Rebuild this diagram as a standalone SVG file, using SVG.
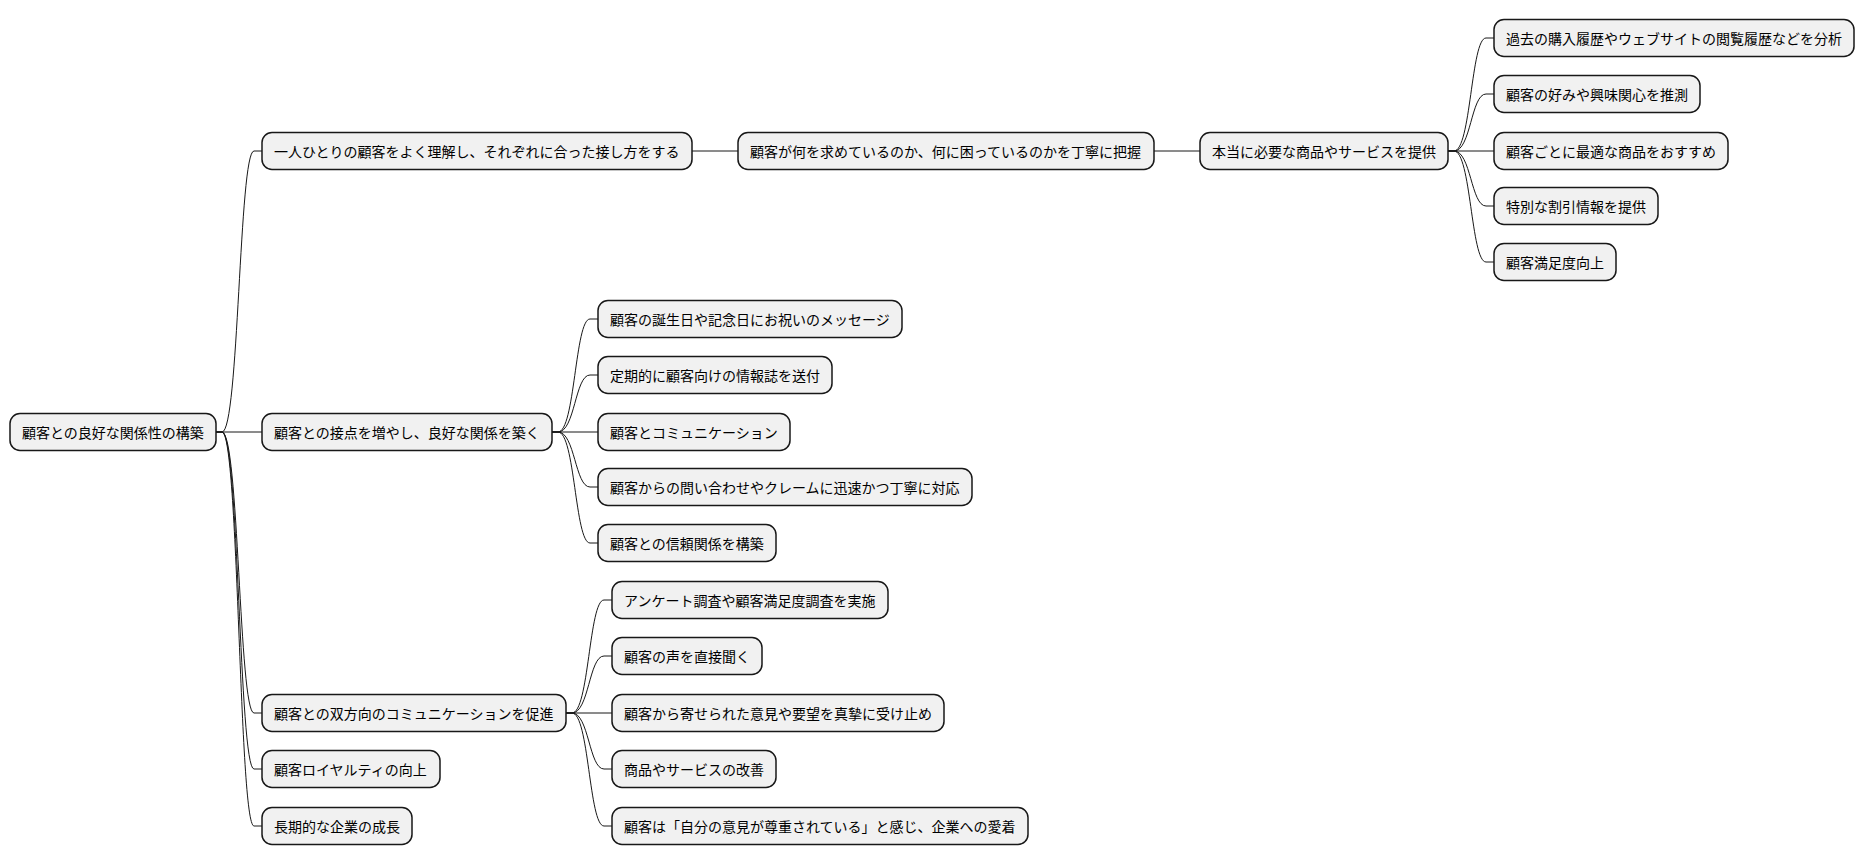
<svg xmlns="http://www.w3.org/2000/svg" width="1860" height="865" viewBox="0 0 1860 865">
<style>
.n rect{fill:#f1f1f1;stroke:#181818;stroke-width:1.5}
.n text{font-family:"Noto Sans CJK JP","Noto Sans",sans-serif;font-size:14px;fill:#000;dominant-baseline:central}
#edges path{fill:none;stroke:#181818;stroke-width:1}
</style>
<rect width="1860" height="865" fill="#fff"/>
<g id="edges">
<path d="M216 432 h6 C239 432 239 151 254 151 H262"/>
<path d="M216 432 H262"/>
<path d="M216 432 h6 C239 432 239 713 254 713 H262"/>
<path d="M216 432 h6 C239 432 239 769 254 769 H262"/>
<path d="M216 432 h6 C239 432 239 826 254 826 H262"/>
<path d="M692 151 H738"/>
<path d="M1154 151 H1200"/>
<path d="M1448 151 h6 C1471 151 1471 38 1486 38 H1494"/>
<path d="M1448 151 h6 C1471 151 1471 94 1486 94 H1494"/>
<path d="M1448 151 H1494"/>
<path d="M1448 151 h6 C1471 151 1471 206 1486 206 H1494"/>
<path d="M1448 151 h6 C1471 151 1471 262 1486 262 H1494"/>
<path d="M552 432 h6 C575 432 575 319 590 319 H598"/>
<path d="M552 432 h6 C575 432 575 375 590 375 H598"/>
<path d="M552 432 H598"/>
<path d="M552 432 h6 C575 432 575 487 590 487 H598"/>
<path d="M552 432 h6 C575 432 575 543 590 543 H598"/>
<path d="M566 713 h6 C589 713 589 600 604 600 H612"/>
<path d="M566 713 h6 C589 713 589 656 604 656 H612"/>
<path d="M566 713 H612"/>
<path d="M566 713 h6 C589 713 589 769 604 769 H612"/>
<path d="M566 713 h6 C589 713 589 826 604 826 H612"/>
</g>
<g id="root" class="n" transform="translate(10,432)"><rect x="0" y="-18.5" width="206" height="37" rx="10"/><text x="12" y="0">顧客との良好な関係性の構築</text></g>
<g id="n1" class="n" transform="translate(262,151)"><rect x="0" y="-18.5" width="430" height="37" rx="10"/><text x="12" y="0">一人ひとりの顧客をよく理解し、それぞれに合った接し方をする</text></g>
<g id="n1a" class="n" transform="translate(738,151)"><rect x="0" y="-18.5" width="416" height="37" rx="10"/><text x="12" y="0">顧客が何を求めているのか、何に困っているのかを丁寧に把握</text></g>
<g id="n1b" class="n" transform="translate(1200,151)"><rect x="0" y="-18.5" width="248" height="37" rx="10"/><text x="12" y="0">本当に必要な商品やサービスを提供</text></g>
<g id="n1b1" class="n" transform="translate(1494,38)"><rect x="0" y="-18.5" width="360" height="37" rx="10"/><text x="12" y="0">過去の購入履歴やウェブサイトの閲覧履歴などを分析</text></g>
<g id="n1b2" class="n" transform="translate(1494,94)"><rect x="0" y="-18.5" width="206" height="37" rx="10"/><text x="12" y="0">顧客の好みや興味関心を推測</text></g>
<g id="n1b3" class="n" transform="translate(1494,151)"><rect x="0" y="-18.5" width="234" height="37" rx="10"/><text x="12" y="0">顧客ごとに最適な商品をおすすめ</text></g>
<g id="n1b4" class="n" transform="translate(1494,206)"><rect x="0" y="-18.5" width="164" height="37" rx="10"/><text x="12" y="0">特別な割引情報を提供</text></g>
<g id="n1b5" class="n" transform="translate(1494,262)"><rect x="0" y="-18.5" width="122" height="37" rx="10"/><text x="12" y="0">顧客満足度向上</text></g>
<g id="n2" class="n" transform="translate(262,432)"><rect x="0" y="-18.5" width="290" height="37" rx="10"/><text x="12" y="0">顧客との接点を増やし、良好な関係を築く</text></g>
<g id="n21" class="n" transform="translate(598,319)"><rect x="0" y="-18.5" width="304" height="37" rx="10"/><text x="12" y="0">顧客の誕生日や記念日にお祝いのメッセージ</text></g>
<g id="n22" class="n" transform="translate(598,375)"><rect x="0" y="-18.5" width="234" height="37" rx="10"/><text x="12" y="0">定期的に顧客向けの情報誌を送付</text></g>
<g id="n23" class="n" transform="translate(598,432)"><rect x="0" y="-18.5" width="192" height="37" rx="10"/><text x="12" y="0">顧客とコミュニケーション</text></g>
<g id="n24" class="n" transform="translate(598,487)"><rect x="0" y="-18.5" width="374" height="37" rx="10"/><text x="12" y="0">顧客からの問い合わせやクレームに迅速かつ丁寧に対応</text></g>
<g id="n25" class="n" transform="translate(598,543)"><rect x="0" y="-18.5" width="178" height="37" rx="10"/><text x="12" y="0">顧客との信頼関係を構築</text></g>
<g id="n3" class="n" transform="translate(262,713)"><rect x="0" y="-18.5" width="304" height="37" rx="10"/><text x="12" y="0">顧客との双方向のコミュニケーションを促進</text></g>
<g id="n31" class="n" transform="translate(612,600)"><rect x="0" y="-18.5" width="276" height="37" rx="10"/><text x="12" y="0">アンケート調査や顧客満足度調査を実施</text></g>
<g id="n32" class="n" transform="translate(612,656)"><rect x="0" y="-18.5" width="150" height="37" rx="10"/><text x="12" y="0">顧客の声を直接聞く</text></g>
<g id="n33" class="n" transform="translate(612,713)"><rect x="0" y="-18.5" width="332" height="37" rx="10"/><text x="12" y="0">顧客から寄せられた意見や要望を真摯に受け止め</text></g>
<g id="n34" class="n" transform="translate(612,769)"><rect x="0" y="-18.5" width="164" height="37" rx="10"/><text x="12" y="0">商品やサービスの改善</text></g>
<g id="n35" class="n" transform="translate(612,826)"><rect x="0" y="-18.5" width="416" height="37" rx="10"/><text x="12" y="0">顧客は「自分の意見が尊重されている」と感じ、企業への愛着</text></g>
<g id="n4" class="n" transform="translate(262,769)"><rect x="0" y="-18.5" width="178" height="37" rx="10"/><text x="12" y="0">顧客ロイヤルティの向上</text></g>
<g id="n5" class="n" transform="translate(262,826)"><rect x="0" y="-18.5" width="150" height="37" rx="10"/><text x="12" y="0">長期的な企業の成長</text></g>
</svg>
